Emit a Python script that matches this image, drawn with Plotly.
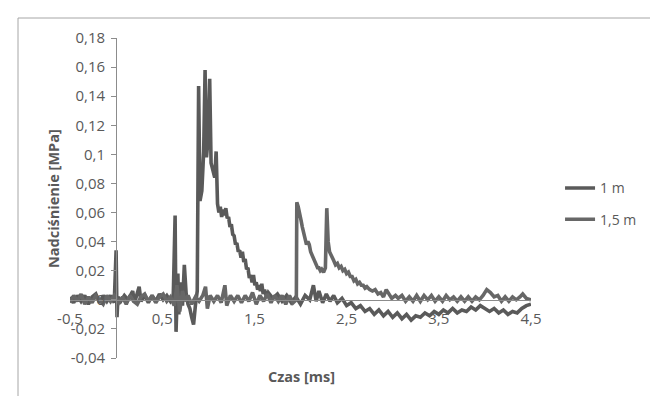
import plotly.graph_objects as go

# ---- data ----
time_1m = [-0.50, -0.46, -0.42, -0.38, -0.34, -0.30, -0.26, -0.22, -0.18, -0.14,
           -0.10, -0.06, -0.02, 0.00, 0.01, 0.02, 0.05, 0.09, 0.13, 0.18,
           0.20, 0.25, 0.27, 0.31, 0.35, 0.39, 0.43, 0.47, 0.51, 0.55,
           0.59, 0.62, 0.64, 0.65, 0.67, 0.68, 0.70, 0.72, 0.74, 0.76,
           0.78, 0.80, 0.82, 0.84, 0.86, 0.88, 0.895, 0.91, 0.93, 0.95,
           0.965, 0.98, 1.00, 1.015, 1.03, 1.05, 1.07, 1.085, 1.10, 1.115,
           1.13, 1.145, 1.16, 1.175, 1.19, 1.205, 1.22, 1.235, 1.25, 1.265,
           1.28, 1.295, 1.31, 1.325, 1.34, 1.355, 1.37, 1.385, 1.40, 1.415,
           1.43, 1.445, 1.46, 1.475, 1.49, 1.505, 1.52, 1.535, 1.55, 1.565,
           1.58, 1.595, 1.61, 1.63, 1.65, 1.70, 1.75, 1.80, 1.85, 1.90,
           1.95, 2.00, 2.05, 2.10, 2.14, 2.17, 2.20, 2.24, 2.28, 2.32,
           2.36, 2.40, 2.45, 2.50, 2.55, 2.60, 2.65, 2.70, 2.75, 2.80,
           2.85, 2.90, 2.95, 3.00, 3.05, 3.10, 3.15, 3.20, 3.25, 3.30,
           3.35, 3.40, 3.45, 3.50, 3.55, 3.60, 3.65, 3.70, 3.75, 3.80,
           3.85, 3.90, 3.95, 4.00, 4.05, 4.10, 4.15, 4.20, 4.25, 4.30,
           4.35, 4.40, 4.45, 4.50]
pressure_1m = [0.002, -0.002, 0.003, -0.001, 0.003, -0.003, 0.002, 0.004, -0.002, 0.003,
               -0.001, 0.003, -0.002, 0.034, -0.012, 0.002, -0.001, 0.003, 0.000, 0.006,
               -0.002, 0.009, -0.001, 0.003, -0.002, 0.003, -0.001, 0.004, 0.000, 0.003,
               -0.001, 0.002, 0.058, -0.022, 0.018, -0.010, 0.012, -0.004, 0.024, 0.004,
               -0.003, -0.006, -0.012, -0.017, -0.004, 0.006, 0.147, 0.068, 0.075, 0.102,
               0.158, 0.098, 0.112, 0.152, 0.094, 0.088, 0.084, 0.102, 0.066, 0.060,
               0.064, 0.057, 0.062, 0.058, 0.063, 0.056, 0.057, 0.050, 0.052, 0.045,
               0.044, 0.038, 0.039, 0.033, 0.034, 0.029, 0.033, 0.026, 0.028, 0.021,
               0.022, 0.015, 0.017, 0.012, 0.017, 0.010, 0.012, 0.007, 0.010, 0.006,
               0.011, 0.004, 0.007, 0.002, 0.005, 0.001, 0.004, -0.001, 0.003, -0.002,
               0.002, -0.003, 0.003, 0.000, 0.010, -0.001, 0.006, -0.002, 0.004, -0.001,
               0.003, -0.002, 0.001, -0.004, -0.002, -0.006, -0.004, -0.008, -0.006, -0.010,
               -0.007, -0.011, -0.008, -0.012, -0.009, -0.013, -0.010, -0.014, -0.011, -0.012,
               -0.009, -0.011, -0.008, -0.010, -0.007, -0.009, -0.006, -0.009, -0.007, -0.008,
               -0.005, -0.007, -0.004, -0.006, -0.008, -0.006, -0.009, -0.007, -0.010, -0.008,
               -0.009, -0.006, -0.004, -0.003]

time_15m = [-0.50, -0.46, -0.42, -0.38, -0.34, -0.30, -0.26, -0.22, -0.18, -0.14,
            -0.10, -0.06, -0.02, 0.03, 0.07, 0.11, 0.15, 0.19, 0.23, 0.27,
            0.31, 0.35, 0.39, 0.43, 0.47, 0.51, 0.55, 0.59, 0.63, 0.66,
            0.69, 0.72, 0.75, 0.78, 0.82, 0.86, 0.90, 0.94, 0.97, 0.99,
            1.02, 1.06, 1.10, 1.14, 1.18, 1.20, 1.24, 1.28, 1.32, 1.36,
            1.40, 1.44, 1.48, 1.52, 1.56, 1.60, 1.64, 1.68, 1.72, 1.76,
            1.80, 1.84, 1.88, 1.92, 1.955, 1.96, 1.975, 1.99, 2.005, 2.02,
            2.035, 2.05, 2.065, 2.08, 2.095, 2.11, 2.125, 2.14, 2.155, 2.17,
            2.185, 2.20, 2.215, 2.23, 2.25, 2.27, 2.285, 2.30, 2.315, 2.33,
            2.345, 2.36, 2.38, 2.40, 2.42, 2.44, 2.46, 2.48, 2.50, 2.52,
            2.54, 2.56, 2.58, 2.60, 2.62, 2.64, 2.66, 2.68, 2.70, 2.72,
            2.75, 2.78, 2.81, 2.84, 2.87, 2.90, 2.93, 2.96, 2.99, 3.03,
            3.06, 3.10, 3.14, 3.18, 3.22, 3.26, 3.30, 3.34, 3.38, 3.42,
            3.46, 3.50, 3.54, 3.58, 3.62, 3.66, 3.70, 3.74, 3.78, 3.82,
            3.86, 3.90, 3.94, 3.98, 4.02, 4.06, 4.10, 4.14, 4.18, 4.22,
            4.26, 4.30, 4.34, 4.38, 4.41, 4.45, 4.50]
pressure_15m = [-0.002, 0.003, -0.001, 0.004, -0.003, 0.002, -0.002, 0.003, 0.000, -0.003,
                0.003, -0.001, 0.003, -0.002, 0.002, -0.003, 0.003, -0.001, -0.003, 0.002,
                0.004, -0.001, 0.003, -0.002, 0.002, 0.004, -0.001, 0.002, -0.004, 0.010,
                -0.008, 0.006, -0.001, 0.003, -0.003, 0.002, -0.001, 0.003, 0.009, -0.006,
                0.003, -0.001, 0.003, -0.002, 0.010, -0.004, 0.003, -0.001, 0.003, -0.002,
                0.003, -0.001, 0.005, -0.003, 0.003, -0.001, 0.004, -0.002, 0.003, -0.001,
                0.003, -0.003, 0.003, -0.002, 0.000, 0.067, 0.064, 0.058, 0.055, 0.050,
                0.046, 0.042, 0.038, 0.040, 0.038, 0.033, 0.031, 0.028, 0.026, 0.025,
                0.022, 0.022, 0.020, 0.021, 0.019, 0.022, 0.063, 0.040, 0.033, 0.031,
                0.028, 0.027, 0.024, 0.025, 0.022, 0.023, 0.020, 0.021, 0.018, 0.019,
                0.016, 0.016, 0.013, 0.014, 0.011, 0.012, 0.010, 0.010, 0.008, 0.009,
                0.007, 0.006, 0.007, 0.004, 0.005, 0.002, 0.007, 0.004, 0.001, 0.003,
                0.001, 0.003, -0.001, 0.002, -0.001, 0.003, -0.001, 0.003, 0.000, 0.003,
                -0.001, 0.002, -0.001, 0.003, 0.000, 0.002, -0.001, 0.002, -0.001, 0.002,
                -0.001, 0.002, 0.000, 0.003, 0.007, 0.005, 0.002, 0.003, -0.001, 0.002,
                -0.001, 0.002, 0.000, 0.002, 0.004, 0.001, 0.000]

x_tick_vals = [-0.5, 0.5, 1.5, 2.5, 3.5, 4.5]
x_tick_text = ["-0,5", "0,5", "1,5", "2,5", "3,5", "4,5"]
y_tick_vals = [-0.04, -0.02, 0, 0.02, 0.04, 0.06, 0.08, 0.1, 0.12, 0.14, 0.16, 0.18]
y_tick_text = ["-0,04", "-0,02", "0", "0,02", "0,04", "0,06", "0,08", "0,1",
               "0,12", "0,14", "0,16", "0,18"]

FONT = "Open Sans"
TXT = "#595959"
AX = "#8c8c8c"

fig = go.Figure()
fig.add_trace(go.Scatter(x=time_1m, y=pressure_1m, mode="lines", name="1 m",
                         legendgroup="a",
                         line=dict(color="#5a5a5a", width=3.6)))
fig.add_trace(go.Scatter(x=time_15m, y=pressure_15m, mode="lines", name="1,5 m",
                         legendgroup="b",
                         line=dict(color="#676767", width=3.6)))

fig.update_layout(
    width=658, height=396,
    margin=dict(l=62, r=135, t=30, b=46),
    plot_bgcolor="white", paper_bgcolor="white",
    separators=", ",
    font=dict(family=FONT, size=14, color=TXT),
    showlegend=True,
    legend=dict(x=1.063, y=0.58, xanchor="left", yanchor="top",
                font=dict(family=FONT, size=14, color=TXT),
                tracegroupgap=10, bgcolor="rgba(0,0,0,0)"),
    xaxis=dict(range=[-0.5, 4.5], tickvals=x_tick_vals, ticktext=x_tick_text,
               showgrid=False, zeroline=False, showline=True, linecolor=AX,
               ticks="", anchor="free", position=0.04 / 0.22,
               ticklabelstandoff=5, tickfont=dict(size=15, color=TXT)),
    yaxis=dict(range=[-0.04, 0.18], tickvals=y_tick_vals, ticktext=y_tick_text,
               showgrid=False, zeroline=False, showline=True, linecolor=AX,
               ticks="outside", ticklen=5, tickcolor=AX,
               anchor="free", position=0.1, ticklabelstandoff=3,
               tickfont=dict(size=15, color=TXT)),
    annotations=[
        dict(text="<b>Nadciśnienie [MPa]</b>", xref="paper", yref="paper",
             x=(45 - 62) / 461, y=(350 - 191) / 320, textangle=-90,
             showarrow=False, font=dict(family=FONT, size=14.5, color=TXT),
             xanchor="center", yanchor="middle"),
        dict(text="<b>Czas [ms]</b>", xref="paper", yref="paper",
             x=(293 - 62) / 461, y=(350 - 368) / 320,
             showarrow=False, font=dict(family=FONT, size=14.5, color=TXT),
             xanchor="center", yanchor="middle"),
    ],
    shapes=[dict(type="rect", xref="paper", yref="paper",
                 x0=(10 - 62) / 461, x1=(655 - 62) / 461,
                 y0=(350 - 392) / 320, y1=(350 - 10) / 320,
                 line=dict(color="#a6a6a6", width=1), layer="below")],
)

fig.write_html("out.html")
